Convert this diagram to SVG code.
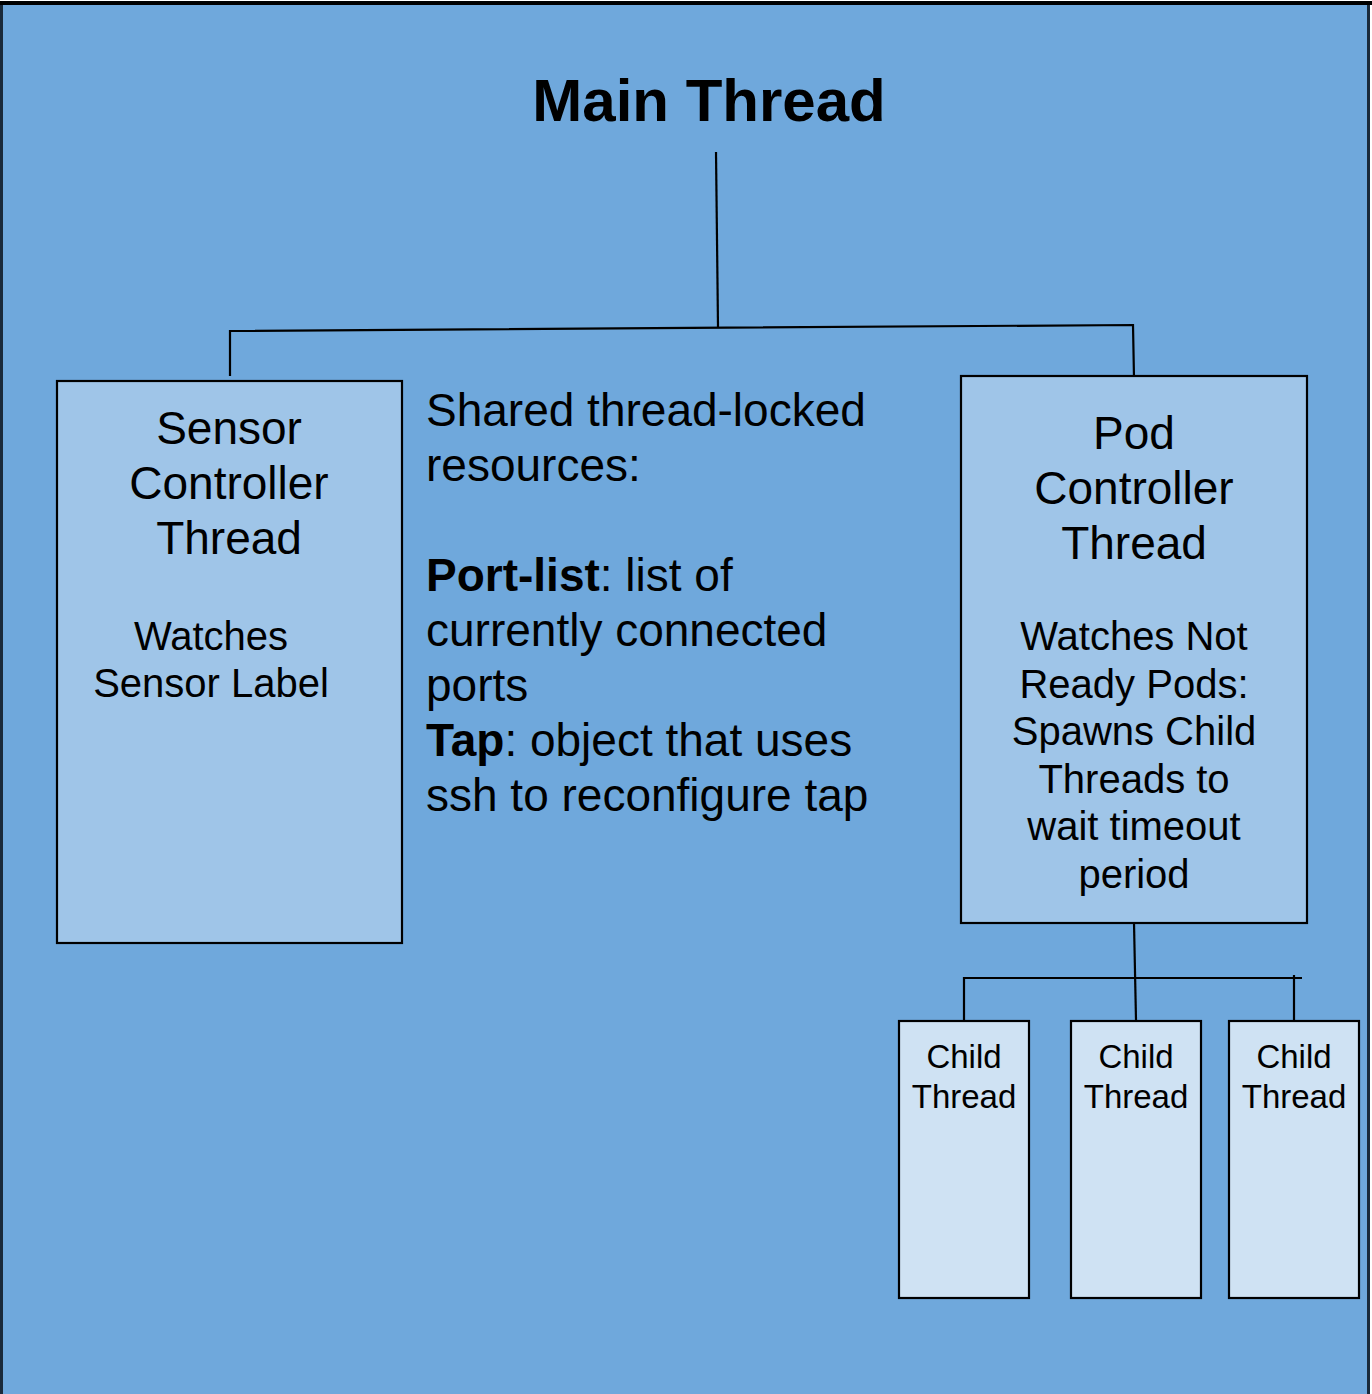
<svg xmlns="http://www.w3.org/2000/svg" width="1372" height="1394" viewBox="0 0 1372 1394">
<style>
.box{stroke:#000;stroke-width:2.2}
.mid{fill:#9fc5e8}
.child{fill:#cfe2f3}
.t{font-family:"Liberation Sans",Arial,sans-serif;fill:#000}
.c{text-anchor:middle}
.conn{stroke:#000;stroke-width:2.2;fill:none}
</style>
<rect x="0" y="0" width="1372" height="1394" fill="#ffffff"/>
<rect x="1.5" y="3" width="1367" height="1400" fill="#6fa8dc" stroke="#1a2a3a" stroke-width="3"/>
<line x1="0" y1="3" x2="1372" y2="3" stroke="#000" stroke-width="4"/>
<g id="main-thread">
<text class="t c" x="709" y="121" font-size="60" font-weight="bold">Main Thread</text>
</g>
<g id="connectors">
<polyline class="conn" points="716,152 718,327"/>
<polyline class="conn" points="230,376 230,331 1133,325 1134,378"/>
<polyline class="conn" points="1134,923 1136,1020"/>
<polyline class="conn" points="964,1020 964,978 1302,978"/>
<polyline class="conn" points="1294,975 1294,1020"/>
</g>
<g id="sensor-controller">
<rect class="box mid" x="57" y="381" width="345" height="562"/>
<text class="t c" x="229" font-size="46"><tspan x="229" y="444">Sensor</tspan><tspan x="229" y="499">Controller</tspan><tspan x="229" y="554">Thread</tspan></text>
<text class="t c" x="211" font-size="40"><tspan x="211" y="650">Watches</tspan><tspan x="211" y="697">Sensor Label</tspan></text>
</g>
<g id="shared-resources">
<text class="t" font-size="46"><tspan x="426" y="426">Shared thread-locked</tspan><tspan x="426" y="481">resources:</tspan><tspan x="426" y="591"><tspan font-weight="bold">Port-list</tspan>: list of</tspan><tspan x="426" y="646">currently connected</tspan><tspan x="426" y="701">ports</tspan><tspan x="426" y="756"><tspan font-weight="bold">Tap</tspan>: object that uses</tspan><tspan x="426" y="811">ssh to reconfigure tap</tspan></text>
</g>
<g id="pod-controller">
<rect class="box mid" x="961" y="376" width="346" height="547"/>
<text class="t c" font-size="46"><tspan x="1134" y="449">Pod</tspan><tspan x="1134" y="504">Controller</tspan><tspan x="1134" y="559">Thread</tspan></text>
<text class="t c" font-size="40"><tspan x="1134" y="650">Watches Not</tspan><tspan x="1134" y="698">Ready Pods:</tspan><tspan x="1134" y="745">Spawns Child</tspan><tspan x="1134" y="793">Threads to</tspan><tspan x="1134" y="840">wait timeout</tspan><tspan x="1134" y="888">period</tspan></text>
</g>
<g id="child-1">
<rect class="box child" x="899" y="1021" width="130" height="277"/>
<text class="t c" font-size="33"><tspan x="964" y="1068">Child</tspan><tspan x="964" y="1108">Thread</tspan></text>
</g>
<g id="child-2">
<rect class="box child" x="1071" y="1021" width="130" height="277"/>
<text class="t c" font-size="33"><tspan x="1136" y="1068">Child</tspan><tspan x="1136" y="1108">Thread</tspan></text>
</g>
<g id="child-3">
<rect class="box child" x="1229" y="1021" width="130" height="277"/>
<text class="t c" font-size="33"><tspan x="1294" y="1068">Child</tspan><tspan x="1294" y="1108">Thread</tspan></text>
</g>
</svg>
